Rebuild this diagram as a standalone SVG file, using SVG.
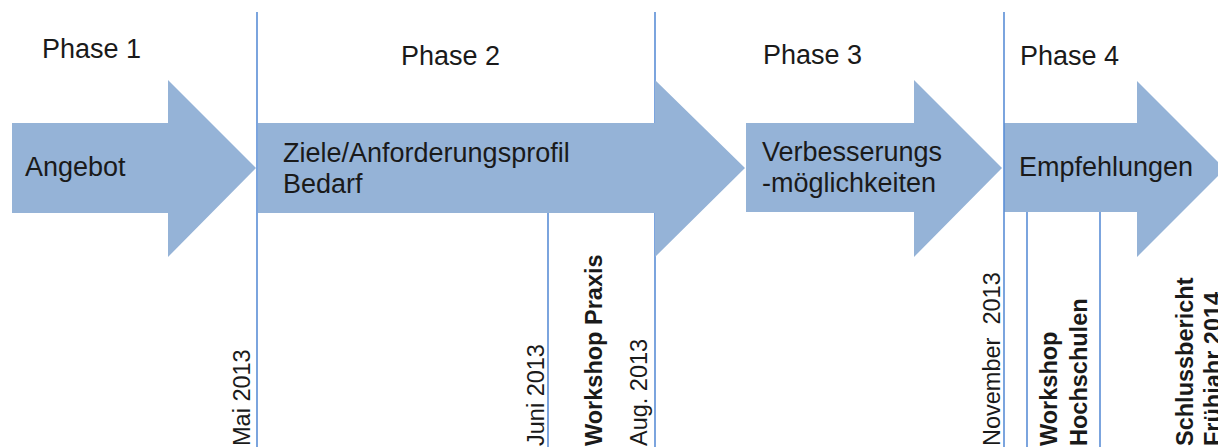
<svg xmlns="http://www.w3.org/2000/svg" width="1218" height="447" viewBox="0 0 1218 447">
<style>
.arrow{fill:#95b3d7;stroke:none}
.vl{stroke:#5b8ed6;stroke-width:1.6;fill:none}
.t{font-family:"Liberation Sans",Arial,sans-serif;font-size:27px;fill:#1a1a1a}
.r{font-family:"Liberation Sans",Arial,sans-serif;font-size:23.5px;fill:#1a1a1a}
.b{font-weight:bold}
</style>
<rect width="1218" height="447" fill="#ffffff"/>
<g id="lines-under">
<line class="vl" x1="655" y1="12" x2="655" y2="447"/>
</g>
<g id="phase1">
<polygon class="arrow" points="12,123 168,123 168,80 256,168 168,257 168,213 12,213"/>
<text class="t" x="42" y="58">Phase 1</text>
<text class="t" x="25" y="176">Angebot</text>
</g>
<g id="phase2">
<polygon class="arrow" points="258,123 655,123 655,80 745,168 655,257 655,213 258,213"/>
<text class="t" x="401" y="65">Phase 2</text>
<text class="t" x="283" y="162">Ziele/Anforderungsprofil</text>
<text class="t" x="283" y="193">Bedarf</text>
</g>
<g id="phase3">
<polygon class="arrow" points="746,123 914,123 914,80 1002,168 914,257 914,212 746,212"/>
<text class="t" x="763" y="64">Phase 3</text>
<text class="t" x="762" y="161">Verbesserungs</text>
<text class="t" x="762" y="192">-möglichkeiten</text>
</g>
<g id="phase4">
<polygon class="arrow" points="1004,123 1137,123 1137,81 1225,169 1137,257 1137,212 1004,212"/>
<text class="t" x="1020" y="65">Phase 4</text>
<text class="t" x="1019" y="176">Empfehlungen</text>
</g>
<g id="connectors">
<line class="vl" x1="257" y1="12" x2="257" y2="447"/>
<line class="vl" x1="1004" y1="12" x2="1004" y2="447"/>
<line class="vl" x1="548" y1="213" x2="548" y2="447"/>
<line class="vl" x1="1027" y1="212" x2="1027" y2="447"/>
<line class="vl" x1="1100" y1="212" x2="1100" y2="447"/>
</g>
<g id="milestones">
<text class="r" transform="translate(250,446) rotate(-90)">Mai 2013</text>
<text class="r" transform="translate(544,446) rotate(-90)">Juni 2013</text>
<text class="r b" transform="translate(602,446) rotate(-90)">Workshop Praxis</text>
<text class="r" transform="translate(647,446) rotate(-90)">Aug. 2013</text>
<text class="r" xml:space="preserve" transform="translate(1000,446) rotate(-90)">November  2013</text>
<text class="r b" transform="translate(1057,446) rotate(-90)">Workshop</text>
<text class="r b" transform="translate(1087,446) rotate(-90)">Hochschulen</text>
<text class="r b" transform="translate(1193,446) rotate(-90)">Schlussbericht</text>
<text class="r b" transform="translate(1221,446) rotate(-90)">Frühjahr 2014</text>
</g>
</svg>
